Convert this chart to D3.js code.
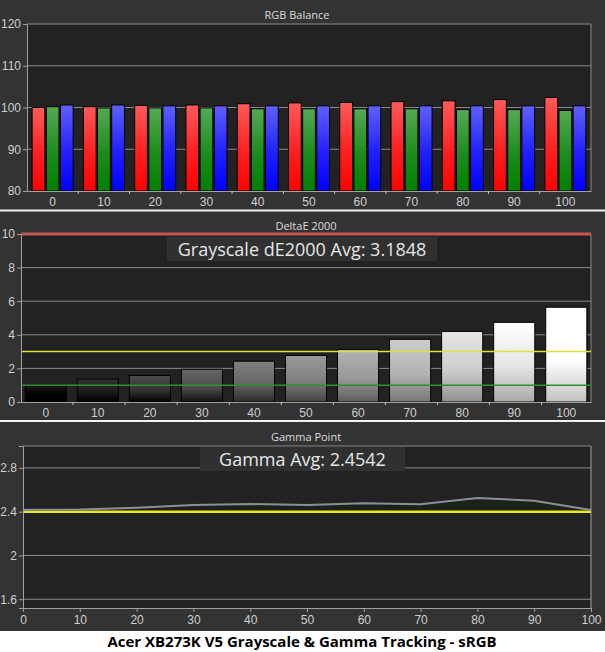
<!DOCTYPE html>
<html lang="en">
<head>
  <meta charset="UTF-8">
  <title>Acer XB273K V5 Grayscale & Gamma Tracking - sRGB</title>
  <script src="https://d3js.org/d3.v7.min.js"></script>
  <style>
    body { margin: 0; padding: 0; background: #fff; }
    svg { display: block; font-family: "Open Sans", "Noto Sans", sans-serif; }
    .tick text { fill: #cfcfcf; font-size: 12px; }
    .panel-title { fill: #dcdcdc; font-size: 11px; }
  </style>
</head>
<body>
  <script>
    // grayscale steps shared by all three panels
    const levels = [0, 10, 20, 30, 40, 50, 60, 70, 80, 90, 100];

    // RGB balance (% of target)
    const redBal   = [100.0, 100.2, 100.5, 100.6, 100.9, 101.1, 101.2, 101.4, 101.6, 101.9, 102.4];
    const greenBal = [100.2, 99.9, 99.9, 99.9, 99.7, 99.7, 99.7, 99.7, 99.5, 99.5, 99.3];
    const blueBal  = [100.6, 100.6, 100.4, 100.4, 100.4, 100.4, 100.4, 100.4, 100.4, 100.4, 100.4];
    const rgbTicks = [80, 90, 100, 110, 120];

    // DeltaE 2000 per step
    const deltaE = [1.0, 1.36, 1.58, 1.95, 2.43, 2.77, 3.13, 3.73, 4.2, 4.74, 5.64];
    const deTicks = [0, 2, 4, 6, 8, 10];
    const deAvg = "3.1848";

    // gamma per step
    const gamma = [2.418, 2.42, 2.437, 2.46, 2.47, 2.46, 2.477, 2.468, 2.525, 2.50, 2.415];
    const gammaTicks = [1.6, 2.0, 2.4, 2.8];
    const gammaTarget = 2.4;
    const gammaAvg = "2.4542";

    const W = 605, H = 652;
    const svg = d3.select("body").append("svg").attr("width", W).attr("height", H);

    svg.append("rect").attr("width", W).attr("height", 631).attr("fill", "#333333");
    svg.append("rect").attr("y", 631).attr("width", W).attr("height", H - 631).attr("fill", "#ffffff");

    [[210.5], [421]].forEach(([y]) => {
      svg.append("line").attr("x1", 0).attr("x2", W).attr("y1", y).attr("y2", y)
        .attr("stroke", "#f2f2f2").attr("stroke-width", 2);
    });

    const defs = svg.append("defs");
    function vGrad(id, top, mid, bottom) {
      const g = defs.append("linearGradient").attr("id", id)
        .attr("x1", 0).attr("y1", 0).attr("x2", 0).attr("y2", 1);
      g.append("stop").attr("offset", "0%").attr("stop-color", top);
      g.append("stop").attr("offset", "55%").attr("stop-color", mid);
      g.append("stop").attr("offset", "100%").attr("stop-color", bottom);
    }
    vGrad("g-red", "#ff5a5a", "#ff2020", "#ff0000");
    vGrad("g-green", "#55aa55", "#1c8c1c", "#008000");
    vGrad("g-blue", "#6060ff", "#2020ff", "#0000ff");

    function plotFrame(x0, x1, y0, y1) {
      svg.append("rect").attr("x", x0).attr("y", y0)
        .attr("width", x1 - x0).attr("height", y1 - y0).attr("fill", "#222222");
    }

    function styleAxis(g) {
      g.select(".domain").attr("stroke", "#a0a0a0");
      g.selectAll(".tick line").attr("stroke", "#a0a0a0");
    }

    function grid(y, ticks, x0, x1) {
      svg.append("g").selectAll("line").data(ticks).join("line")
        .attr("x1", x0).attr("x2", x1)
        .attr("y1", d => y(d)).attr("y2", d => y(d))
        .attr("stroke", "#8a8a8a").attr("stroke-width", 1);
    }

    function bandTicks(x, yPos) {
      const edges = d3.range(1, levels.length).map(i => x.range()[0] + i * x.step());
      svg.append("g").selectAll("line").data(edges).join("line")
        .attr("x1", d => d).attr("x2", d => d)
        .attr("y1", yPos).attr("y2", yPos + 3)
        .attr("stroke", "#c0c0c0");
    }

    function avgBox(x, y, w, h, text) {
      svg.append("rect").attr("x", x).attr("y", y).attr("width", w).attr("height", h)
        .attr("fill", "#303030");
      svg.append("text").attr("x", x + w / 2).attr("y", y + h / 2 + 6.5)
        .attr("text-anchor", "middle").attr("fill", "#e6e6e6")
        .attr("font-size", "18px").text(text);
    }

    // ---- RGB Balance ----
    {
      const L = 27, R = 591, T = 24, B = 191;
      plotFrame(L, R, T, B);
      svg.append("text").attr("class", "panel-title").attr("x", 297).attr("y", 19)
        .attr("text-anchor", "middle").text("RGB Balance");

      const x = d3.scaleBand().domain(levels).range([L, R]).paddingInner(0.2).paddingOuter(0.1);
      const sub = d3.scaleBand().domain(["r", "g", "b"]).range([0, x.bandwidth()]).paddingInner(0.1);
      const y = d3.scaleLinear().domain([80, 120]).range([B, T]);

      grid(y, [90, 100, 110, 120], L, R);
      svg.append("line").attr("x1", R).attr("x2", R).attr("y1", T).attr("y2", B).attr("stroke", "#8a8a8a");

      const rows = levels.map((lv, i) => ({ lv, vals: [["r", redBal[i]], ["g", greenBal[i]], ["b", blueBal[i]]] }));
      const fills = { r: "url(#g-red)", g: "url(#g-green)", b: "url(#g-blue)" };
      svg.append("g").selectAll("g").data(rows).join("g")
        .attr("transform", d => `translate(${x(d.lv)},0)`)
        .selectAll("rect").data(d => d.vals).join("rect")
        .attr("x", d => sub(d[0]))
        .attr("y", d => y(d[1]))
        .attr("width", sub.bandwidth())
        .attr("height", d => B - y(d[1]))
        .attr("fill", d => fills[d[0]])
        .attr("stroke", "#000").attr("stroke-width", 1);

      svg.append("g").attr("transform", `translate(${L},0)`)
        .call(d3.axisLeft(y).tickValues(rgbTicks).tickSize(4).tickPadding(2))
        .call(styleAxis);
      svg.append("g").attr("transform", `translate(0,${B})`)
        .call(d3.axisBottom(x).tickSize(0).tickPadding(6))
        .call(styleAxis);
      bandTicks(x, B);
    }

    // ---- DeltaE 2000 ----
    {
      const L = 21, R = 591, T = 234, B = 402;
      plotFrame(L, R, T, B);
      svg.append("text").attr("class", "panel-title").attr("x", 306).attr("y", 230)
        .attr("text-anchor", "middle").text("DeltaE 2000");

      const x = d3.scaleBand().domain(levels).range([L, R]).paddingInner(0.21).paddingOuter(0.08);
      const y = d3.scaleLinear().domain([0, 10]).range([B, T]);

      grid(y, [2, 4, 6, 8], L, R);
      svg.append("line").attr("x1", R).attr("x2", R).attr("y1", T).attr("y2", B).attr("stroke", "#8a8a8a");

      // per-step gray gradients
      levels.forEach(lv => {
        const base = d3.rgb(lv * 2.55, lv * 2.55, lv * 2.55);
        const top = d3.rgb(Math.min(255, base.r + 25), Math.min(255, base.g + 25), Math.min(255, base.b + 25));
        const low = d3.rgb(Math.max(0, base.r - 60), Math.max(0, base.g - 60), Math.max(0, base.b - 60));
        vGrad("g-gray-" + lv, top.formatHex(), base.formatHex(), low.formatHex());
      });

      svg.append("g").selectAll("rect").data(levels).join("rect")
        .attr("x", d => x(d))
        .attr("y", (d, i) => y(deltaE[i]))
        .attr("width", x.bandwidth())
        .attr("height", (d, i) => B - y(deltaE[i]))
        .attr("fill", d => `url(#g-gray-${d})`)
        .attr("stroke", "#000").attr("stroke-width", 1);

      svg.append("line").attr("x1", L).attr("x2", R).attr("y1", y(3)).attr("y2", y(3))
        .attr("stroke", "#e0e040").attr("stroke-width", 1.5);
      svg.append("line").attr("x1", L).attr("x2", R).attr("y1", y(1)).attr("y2", y(1))
        .attr("stroke", "#2f8f2f").attr("stroke-width", 1.5);
      svg.append("line").attr("x1", L).attr("x2", R).attr("y1", y(10)).attr("y2", y(10))
        .attr("stroke", "#c45555").attr("stroke-width", 3);

      avgBox(167, 237, 270, 24, "Grayscale dE2000 Avg: " + deAvg);

      svg.append("g").attr("transform", `translate(${L},0)`)
        .call(d3.axisLeft(y).tickValues(deTicks).tickSize(4).tickPadding(2))
        .call(styleAxis);
      svg.append("g").attr("transform", `translate(0,${B})`)
        .call(d3.axisBottom(x).tickSize(0).tickPadding(6))
        .call(styleAxis);
      bandTicks(x, B);
    }

    // ---- Gamma Point ----
    {
      const L = 23, R = 591, T = 446, B = 608;
      plotFrame(L, R, T, B);
      svg.append("text").attr("class", "panel-title").attr("x", 306).attr("y", 441)
        .attr("text-anchor", "middle").text("Gamma Point");

      const x = d3.scaleLinear().domain([0, 100]).range([L, R]);
      const y = d3.scaleLinear().domain([1.52, 3.0]).range([B, T]);

      grid(y, gammaTicks, L, R);
      svg.append("line").attr("x1", L).attr("x2", R).attr("y1", T).attr("y2", T).attr("stroke", "#8a8a8a");
      svg.append("line").attr("x1", R).attr("x2", R).attr("y1", T).attr("y2", B).attr("stroke", "#a0a0a0");

      const pts = levels.map((lv, i) => ({ lv, g: gamma[i] }));
      svg.append("path").datum(pts)
        .attr("fill", "#1b211b")
        .attr("d", d3.area().x(d => x(d.lv)).y0(y(gammaTarget)).y1(d => y(d.g)));
      svg.append("line").attr("x1", L).attr("x2", R)
        .attr("y1", y(gammaTarget)).attr("y2", y(gammaTarget))
        .attr("stroke", "#e8e820").attr("stroke-width", 2.5);
      svg.append("path").datum(pts)
        .attr("fill", "none").attr("stroke", "#8e8e9a").attr("stroke-width", 2)
        .attr("d", d3.line().x(d => x(d.lv)).y(d => y(d.g)));

      avgBox(200, 447, 205, 24, "Gamma Avg: " + gammaAvg);

      svg.append("g").attr("transform", `translate(${L},0)`)
        .call(d3.axisLeft(y).tickValues(gammaTicks).tickFormat(d3.format("~g")).tickSize(4).tickPadding(2))
        .call(styleAxis);
      svg.append("g").attr("transform", `translate(0,${B})`)
        .call(d3.axisBottom(x).tickValues(levels).tickSize(4).tickPadding(3))
        .call(styleAxis);
    }

    svg.append("text").attr("x", 302).attr("y", 647)
      .attr("text-anchor", "middle").attr("font-weight", "bold")
      .attr("font-size", "15px").attr("fill", "#000")
      .text("Acer XB273K V5 Grayscale & Gamma Tracking - sRGB");
  </script>
</body>
</html>
